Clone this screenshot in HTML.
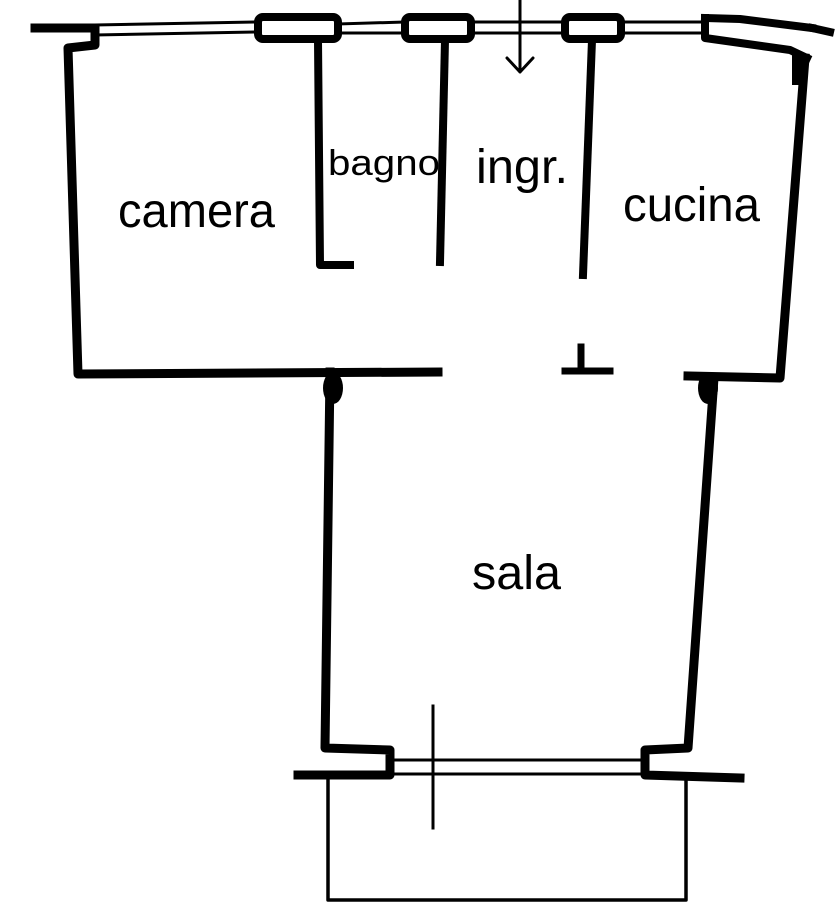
<!DOCTYPE html>
<html><head><style>html,body{margin:0;padding:0;background:#fff}svg{display:block}</style></head>
<body>
<svg width="840" height="920" viewBox="0 0 840 920" xmlns="http://www.w3.org/2000/svg">
<g fill="none" stroke="#000" stroke-linecap="square" stroke-linejoin="round">
<path d="M35 28 L95 28" stroke-width="9"/>
<path d="M95 25 L258 22 M95 35 L258 32" stroke-width="3"/>
<path d="M95 28 L95 45 L68 48 L78 374 L438 372" stroke-width="9"/>
<rect x="258" y="17" width="80" height="22" rx="5" stroke-width="8"/>
<rect x="405" y="17" width="66" height="22" rx="5" stroke-width="8"/>
<rect x="565" y="17" width="56" height="22" rx="5" stroke-width="8"/>
<path d="M338 24 L405 22 M338 33 L405 33 M471 22 L565 22 M471 33 L565 33 M621 22 L705 22 M621 33 L705 33" stroke-width="3"/>
<path d="M705 18 L740 19 L812 28 M705 18 L705 38 L790 50 L807 58" stroke-width="8"/>
<path d="M812 28 L830 32" stroke-width="8"/>
<path d="M805 58 L780 378 L688 376" stroke-width="9"/>
<rect x="792" y="55" width="14" height="30" fill="#000" stroke="none"/>
<path d="M318 40 L320 265 L350 265" stroke-width="8"/>
<path d="M445 40 L440 262" stroke-width="8"/>
<path d="M592 40 L583 275" stroke-width="8"/>
<path d="M565 371 L610 371 M581 371 L581 347" stroke-width="7"/>
<path d="M330 372 L325 748 L390 750 L390 775 L298 775" stroke-width="9"/>
<ellipse cx="333" cy="388" rx="10" ry="16" fill="#000" stroke="none"/>
<path d="M714 378 L688 748 L645 750 L645 775 L740 778" stroke-width="9"/>
<ellipse cx="708" cy="388" rx="10" ry="16" fill="#000" stroke="none"/>
<path d="M392 760 L645 760 M392 774 L645 774" stroke-width="3"/>
<path d="M328 778 L328 900 L686 900 L686 778" stroke-width="3.5"/>
<path d="M433 706 L433 828" stroke-width="3"/>
<path d="M520 0 L520 72 M507 58 L520 72 L533 58" stroke-width="3" stroke-linecap="round"/>
</g>
<g font-family="'Liberation Sans', Arial, sans-serif" fill="#000">
<text x="118" y="227" font-size="48" textLength="157" lengthAdjust="spacingAndGlyphs">camera</text>
<text x="328" y="175" font-size="36" textLength="112" lengthAdjust="spacingAndGlyphs">bagno</text>
<text x="476" y="183" font-size="48" textLength="92" lengthAdjust="spacingAndGlyphs">ingr.</text>
<text x="623" y="221" font-size="48" textLength="137" lengthAdjust="spacingAndGlyphs">cucina</text>
<text x="472" y="589" font-size="48" textLength="89" lengthAdjust="spacingAndGlyphs">sala</text>
</g>
</svg>
</body></html>
